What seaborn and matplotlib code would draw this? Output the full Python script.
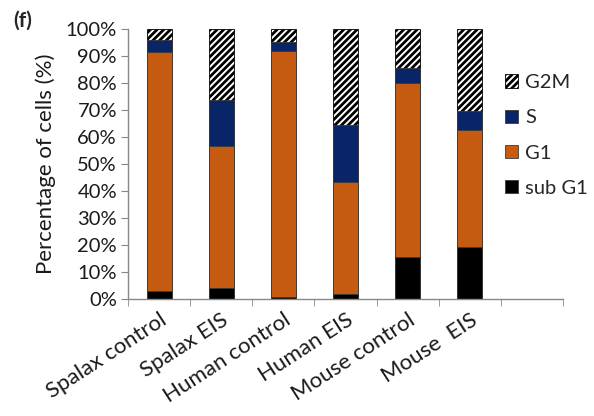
import pandas as pd
import seaborn as sns
import matplotlib.pyplot as plt
from matplotlib.patches import Patch
from matplotlib.ticker import PercentFormatter, FixedLocator

groups = ['Spalax control', 'Spalax EIS', 'Human control', 'Human EIS', 'Mouse control', 'Mouse  EIS']
sub_g1 = [3.1, 4.2, 0.9, 1.9, 15.7, 19.3]
g1 = [88.3, 52.6, 91.0, 41.6, 64.2, 43.2]
s_phase = [4.4, 16.9, 3.3, 20.9, 5.5, 7.0]
g2m = [4.2, 26.3, 4.8, 35.6, 14.6, 30.5]

df = pd.DataFrame({'group': groups, 'sub G1': sub_g1, 'G1': g1, 'S': s_phase, 'G2M': g2m})
# cumulative tops, drawn from the top layer down
df['c_sub'] = df['sub G1']
df['c_g1'] = df['c_sub'] + df['G1']
df['c_s'] = df['c_g1'] + df['S']
df['c_g2m'] = df['c_s'] + df['G2M']

sns.set_style('white')
plt.rcParams['font.family'] = ['Lato', 'DejaVu Sans']
plt.rcParams['hatch.linewidth'] = 2.0

fig = plt.figure(figsize=(5.94, 4.16), dpi=100)
ax = fig.add_axes([0.2155, 0.2813, 0.7323, 0.649])

edge = '#3a3a3a'
sns.barplot(data=df, x='group', y='c_g2m', color='white', edgecolor='black', hatch='/////',
            linewidth=0.6, width=0.4, ax=ax, saturation=1)
sns.barplot(data=df, x='group', y='c_s', color='#0a2468', edgecolor=edge, linewidth=0.6,
            width=0.4, ax=ax, saturation=1)
sns.barplot(data=df, x='group', y='c_g1', color='#c55a11', edgecolor=edge, linewidth=0.6,
            width=0.4, ax=ax, saturation=1)
sns.barplot(data=df, x='group', y='c_sub', color='black', edgecolor=edge, linewidth=0.6,
            width=0.4, ax=ax, saturation=1)

ax.set_xlim(-0.5, 6.5)
ax.set_ylim(0, 100)
ax.set_yticks(range(0, 101, 10))
ax.yaxis.set_major_formatter(PercentFormatter(decimals=0))
ax.set_xlabel('')
ax.set_ylabel('Percentage of cells (%)', fontsize=16, color='#1a1a1a', labelpad=7)
ax.set_xticks(range(6))
ax.set_xticklabels(groups, rotation=33, ha='right', rotation_mode='anchor', fontsize=16)
ax.xaxis.set_minor_locator(FixedLocator([i - 0.5 for i in range(8)]))
ax.tick_params(axis='x', which='major', length=0, pad=8)
ax.tick_params(axis='x', which='minor', length=5, color='#888888', bottom=True)
ax.tick_params(axis='y', length=5, color='#888888', left=True, labelsize=14.5, pad=3)
for lab in ax.get_xticklabels() + ax.get_yticklabels():
    lab.set_color('#1a1a1a')
for sp in ['top', 'right']:
    ax.spines[sp].set_visible(False)
for sp in ['left', 'bottom']:
    ax.spines[sp].set_color('#888888')
    ax.spines[sp].set_linewidth(1)

handles = [Patch(facecolor='white', edgecolor='black', hatch='/////', linewidth=0.6),
           Patch(facecolor='#0a2468', edgecolor=edge, linewidth=0.6),
           Patch(facecolor='#c55a11', edgecolor=edge, linewidth=0.6),
           Patch(facecolor='black', edgecolor=edge, linewidth=0.6)]
fig.legend(handles, ['G2M', 'S', 'G1', 'sub G1'], loc='upper left',
           bbox_to_anchor=(0.82, 0.865), frameon=False, fontsize=14.5,
           handlelength=0.65, handleheight=0.65, handletextpad=0.35, labelspacing=0.9)

fig.text(0.022, 0.951, '(f)', fontsize=15, fontweight='bold', va='center')

fig.savefig('out.png', dpi=100)
